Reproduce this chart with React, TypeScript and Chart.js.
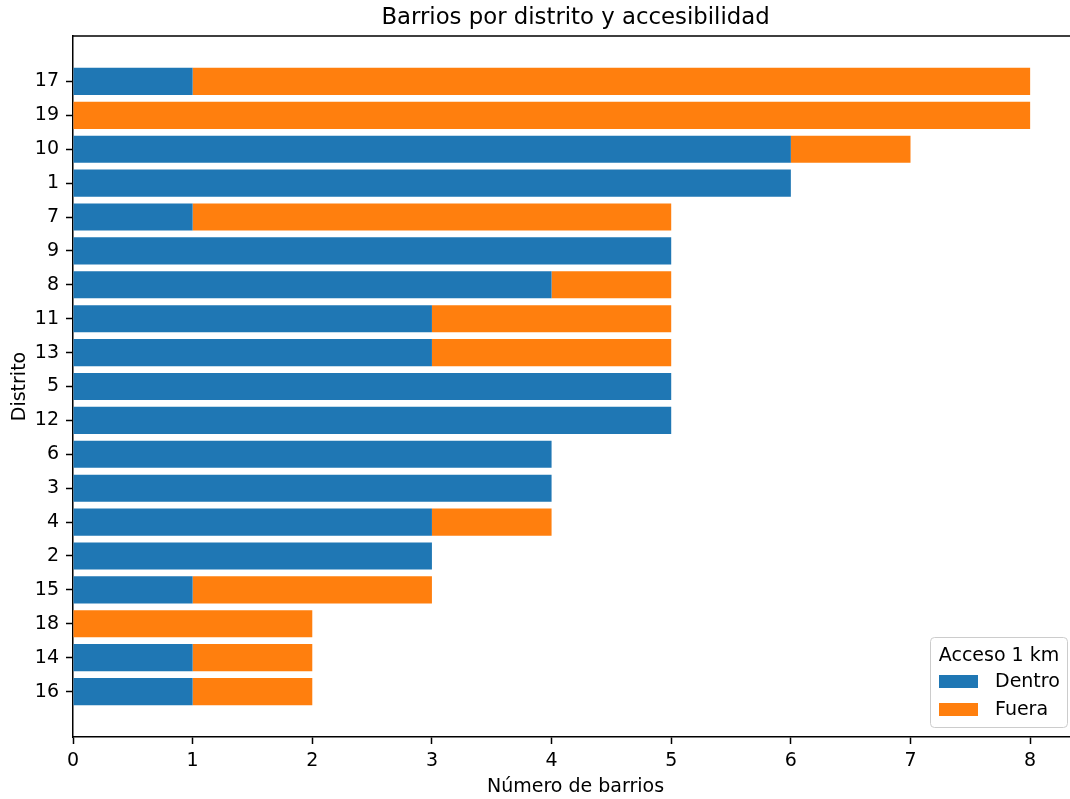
import React, { useEffect, useRef } from 'react';
import { Chart, registerables } from 'chart.js';

Chart.register(...registerables);

const FONT = "'DejaVu Sans', 'Liberation Sans', sans-serif";

const chartTitle = 'Barrios por distrito y accesibilidad';
const xAxisTitle = 'Número de barrios';
const yAxisTitle = 'Distrito';
const legendTitle = 'Acceso 1 km';

const districts = ['17', '19', '10', '1', '7', '9', '8', '11', '13', '5', '12', '6', '3', '4', '2', '15', '18', '14', '16'];
const dentro = [1, 0, 6, 6, 1, 5, 4, 3, 3, 5, 5, 4, 4, 3, 3, 1, 0, 1, 1];
const fuera = [7, 8, 1, 0, 4, 0, 1, 2, 2, 0, 0, 0, 0, 1, 0, 2, 2, 1, 1];
const seriesNames = ['Dentro', 'Fuera'];
const seriesColors = ['#1f77b4', '#ff7f0e'];
const xTickValues = [0, 1, 2, 3, 4, 5, 6, 7, 8];

export default function App() {
  const ref = useRef<HTMLCanvasElement | null>(null);

  useEffect(() => {
    document.body.style.margin = '0';
    document.body.style.overflow = 'hidden';
    const canvas = ref.current;
    if (!canvas) return;

    const overlay = {
      id: 'overlay',
      afterDraw(chart: any) {
        const ctx = chart.ctx as CanvasRenderingContext2D;
        const ca = chart.chartArea;
        ctx.save();
        // top and right spines
        ctx.strokeStyle = '#000';
        ctx.lineWidth = 1.5;
        ctx.beginPath();
        ctx.moveTo(ca.left - 0.75, ca.top);
        ctx.lineTo(ca.right, ca.top);
        ctx.moveTo(ca.right, ca.top);
        ctx.lineTo(ca.right, ca.bottom);
        ctx.stroke();

        const cx = (ca.left + ca.right) / 2;
        ctx.fillStyle = '#000';
        ctx.textAlign = 'center';
        ctx.textBaseline = 'alphabetic';
        ctx.font = `22.8px ${FONT}`;
        ctx.fillText(chartTitle, cx, ca.top - 11.6);

        ctx.font = `19px ${FONT}`;
        ctx.fillText(xAxisTitle, cx, 792);

        ctx.save();
        ctx.translate(25, (ca.top + ca.bottom) / 2);
        ctx.rotate(-Math.PI / 2);
        ctx.fillText(yAxisTitle, 0, 0);
        ctx.restore();

        // legend
        const bx = 930.5, by = 637.5, bw = 137, bh = 90;
        ctx.beginPath();
        (ctx as any).roundRect(bx, by, bw, bh, 4);
        ctx.fillStyle = 'rgba(255,255,255,0.8)';
        ctx.fill();
        ctx.strokeStyle = '#cccccc';
        ctx.lineWidth = 1;
        ctx.stroke();

        ctx.fillStyle = '#000';
        ctx.textAlign = 'center';
        ctx.fillText(legendTitle, bx + bw / 2, 661);
        ctx.textAlign = 'left';
        const rows = [687, 715];
        seriesNames.forEach((name, i) => {
          ctx.fillStyle = seriesColors[i];
          ctx.fillRect(939, rows[i] - 12, 39, 13);
          ctx.fillStyle = '#000';
          ctx.fillText(name, 995, rows[i]);
        });
        ctx.restore();
      },
    };

    const chart = new Chart(canvas, {
      type: 'bar',
      data: {
        datasets: [
          {
            label: seriesNames[0],
            data: dentro.map((v, i) => ({ x: v, y: i })),
            backgroundColor: seriesColors[0],
            borderWidth: 0,
            stack: 's',
          },
          {
            label: seriesNames[1],
            data: fuera.map((v, i) => ({ x: v, y: i })),
            backgroundColor: seriesColors[1],
            borderWidth: 0,
            stack: 's',
          },
        ],
      },
      options: {
        indexAxis: 'y',
        responsive: false,
        animation: false,
        devicePixelRatio: 1,
        layout: { padding: { top: 36, left: 0, right: 0, bottom: 0 } },
        datasets: { bar: { categoryPercentage: 1, barPercentage: 0.8 } },
        plugins: {
          legend: { display: false },
          title: { display: false },
          tooltip: { enabled: false },
        },
        scales: {
          x: {
            type: 'linear',
            stacked: true,
            offset: false,
            min: 0,
            max: 8.4,
            afterFit: (s: any) => { s.height = 62; },
            afterBuildTicks: (s: any) => { s.ticks = xTickValues.map((v) => ({ value: v })); },
            grid: {
              display: true,
              offset: false,
              drawOnChartArea: false,
              drawTicks: true,
              tickLength: 7,
              tickWidth: 1.5,
              tickColor: '#000',
            },
            border: { display: true, color: '#000', width: 1.5 },
            ticks: {
              color: '#000',
              padding: 6,
              maxRotation: 0,
              autoSkip: false,
              font: { family: FONT, size: 19 },
              callback: (v: any) => String(v),
            },
          },
          y: {
            type: 'linear',
            stacked: true,
            reverse: true,
            offset: false,
            min: -1.34,
            max: 19.34,
            afterFit: (s: any) => { s.width = 73; },
            afterBuildTicks: (s: any) => { s.ticks = districts.map((_, i) => ({ value: i })); },
            grid: {
              display: true,
              offset: false,
              drawOnChartArea: false,
              drawTicks: true,
              tickLength: 7,
              tickWidth: 1.5,
              tickColor: '#000',
            },
            border: { display: true, color: '#000', width: 1.5 },
            ticks: {
              color: '#000',
              padding: 7,
              autoSkip: false,
              font: { family: FONT, size: 19 },
              callback: (v: any) => districts[v] ?? '',
            },
          },
        },
      },
      plugins: [overlay],
    } as any);

    return () => chart.destroy();
  }, []);

  return (
    <div style={{ width: 1070, height: 799, overflow: 'hidden' }}>
      <canvas ref={ref} width={1078} height={799} style={{ display: 'block', width: 1078, height: 799 }} />
    </div>
  );
}
